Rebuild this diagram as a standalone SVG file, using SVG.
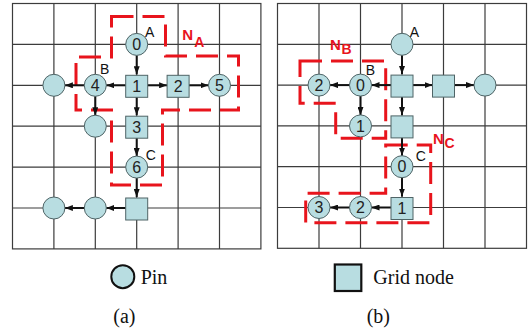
<svg xmlns="http://www.w3.org/2000/svg" width="528" height="333" viewBox="0 0 528 333">
<defs>
<marker id="ah" markerWidth="8" markerHeight="6" refX="8" refY="3" orient="auto" markerUnits="userSpaceOnUse">
<path d="M0,0 L8,3 L0,6 z" fill="#111"/>
</marker>
</defs>
<style>
.grid{stroke:#3c3c3c;stroke-width:1.2;fill:none}
.pin{fill:#b8dde1;stroke:#4f6466;stroke-width:1}
.gn{fill:#b8dde1;stroke:#4f6466;stroke-width:1}
.num{font-family:"Liberation Sans",Arial,sans-serif;font-size:16px;fill:#222;text-anchor:middle}
.lbl{font-family:"Liberation Sans",Arial,sans-serif;font-size:14px;fill:#111}
.net{fill:none;stroke:#e8141c;stroke-width:3;stroke-dasharray:22 9}
.nl{font-family:"Liberation Sans",Arial,sans-serif;font-weight:bold;fill:#e8141c}
.edge{stroke:#111;stroke-width:2;fill:none;marker-end:url(#ah)}
.leg{font-family:"Liberation Serif","Times New Roman",serif;font-size:20px;fill:#111}
</style>

<g id="grid-a" class="grid">
<rect x="12.5" y="3.5" width="248.4" height="245.4"/>
<path d="M53.9,3.5V248.9M95.3,3.5V248.9M136.7,3.5V248.9M178.1,3.5V248.9M219.5,3.5V248.9M12.5,44.4H260.9M12.5,85.3H260.9M12.5,126.2H260.9M12.5,167.1H260.9M12.5,208H260.9"/>
</g>
<g id="grid-b" class="grid">
<rect x="277.5" y="3.5" width="249" height="244.8"/>
<path d="M319,3.5V248.3M360.5,3.5V248.3M402,3.5V248.3M443.5,3.5V248.3M485,3.5V248.3M277.5,44.3H526.5M277.5,85.1H526.5M277.5,125.9H526.5M277.5,166.7H526.5M277.5,207.5H526.5"/>
</g>

<g id="nets">
<path id="net-A" class="net" d="M111.5,16.5H165.5V56H238.5V110H162.5V185H111.5V110H76V57H111.5Z"/>
<path id="net-B" class="net" d="M300,61H385.7V138.3H335.7V103.3H300Z"/>
<path id="net-C" class="net" d="M385.7,145H430.7V222.7H305.7V193.3H385.7Z"/>
<text class="nl" x="182.3" y="40" font-size="15">N</text><text class="nl" x="194.3" y="46.7" font-size="14">A</text>
<text class="nl" x="330" y="50" font-size="15">N</text><text class="nl" x="341.5" y="54" font-size="14">B</text>
<text class="nl" x="433" y="144" font-size="15">N</text><text class="nl" x="444.5" y="148" font-size="14">C</text>
</g>

<g id="connectors">
<path class="edge" d="M136.7,55.4V74.3"/>
<path class="edge" d="M125.7,85.3H106.3"/>
<path class="edge" d="M147.7,85.3H167.1"/>
<path class="edge" d="M189.1,85.3H208.5"/>
<path class="edge" d="M84.3,85.3H64.9"/>
<path class="edge" d="M95.3,96.3V115.2"/>
<path class="edge" d="M136.7,96.3V115.2"/>
<path class="edge" d="M136.7,137.2V156.1"/>
<path class="edge" d="M136.7,178.1V197"/>
<path class="edge" d="M125.7,208H106.3"/>
<path class="edge" d="M84.3,208H64.9"/>

<path class="edge" d="M402,55.3V74.1"/>
<path class="edge" d="M391,85.1H371.5"/>
<path class="edge" d="M349.5,85.1H330"/>
<path class="edge" d="M360.5,96.1V114.9"/>
<path class="edge" d="M413,85.1H432.5"/>
<path class="edge" d="M454.5,85.1H474"/>
<path class="edge" d="M402,96.1V114.9"/>
<path class="edge" d="M402,136.9V155.7"/>
<path class="edge" d="M402,177.7V196.5"/>
<path class="edge" d="M391,207.5H371.5"/>
<path class="edge" d="M349.5,207.5H330"/>
</g>

<g id="a-n0"><circle class="pin" cx="136.7" cy="44.4" r="11"/><text class="num" x="136.7" y="50.1">0</text></g>
<g id="a-n1"><rect class="gn" x="125.7" y="75.3" width="22" height="22"/><text class="num" x="136.7" y="92">1</text></g>
<g id="a-n2"><rect class="gn" x="167.1" y="75.3" width="22" height="22"/><text class="num" x="178.1" y="92">2</text></g>
<g id="a-n5"><circle class="pin" cx="219.5" cy="85.3" r="11"/><text class="num" x="219.5" y="91">5</text></g>
<g id="a-n4"><circle class="pin" cx="95.3" cy="85.3" r="11"/><text class="num" x="95.3" y="91">4</text></g>
<g id="a-p1"><circle class="pin" cx="53.9" cy="85.3" r="11"/></g>
<g id="a-p2"><circle class="pin" cx="95.3" cy="126.2" r="11"/></g>
<g id="a-n3"><rect class="gn" x="125.7" y="116.2" width="22" height="22"/><text class="num" x="136.7" y="132.9">3</text></g>
<g id="a-n6"><circle class="pin" cx="136.7" cy="167.1" r="11"/><text class="num" x="136.7" y="172.8">6</text></g>
<g id="a-g1"><rect class="gn" x="125.7" y="198" width="22" height="22"/></g>
<g id="a-p3"><circle class="pin" cx="95.3" cy="208" r="11"/></g>
<g id="a-p4"><circle class="pin" cx="53.9" cy="208" r="11"/></g>
<g id="a-labels">
<text class="lbl" x="145" y="36.7">A</text>
<text class="lbl" x="100" y="74">B</text>
<text class="lbl" x="145.7" y="160">C</text>
</g>

<g id="b-A"><circle class="pin" cx="402" cy="44.3" r="11"/></g>
<g id="b-g1"><rect class="gn" x="391" y="75.1" width="22" height="22"/></g>
<g id="b-g2"><rect class="gn" x="432.5" y="75.1" width="22" height="22"/></g>
<g id="b-p1"><circle class="pin" cx="485" cy="85.1" r="11"/></g>
<g id="b-B0"><circle class="pin" cx="360.5" cy="85.1" r="11"/><text class="num" x="360.5" y="90.8">0</text></g>
<g id="b-B2"><circle class="pin" cx="319" cy="85.1" r="11"/><text class="num" x="319" y="90.8">2</text></g>
<g id="b-B1"><circle class="pin" cx="360.5" cy="125.9" r="11"/><text class="num" x="360.5" y="131.6">1</text></g>
<g id="b-g3"><rect class="gn" x="391" y="115.9" width="22" height="22"/></g>
<g id="b-C0"><circle class="pin" cx="402" cy="166.7" r="11"/><text class="num" x="402" y="172.4">0</text></g>
<g id="b-C1"><rect class="gn" x="391" y="197.5" width="22" height="22"/><text class="num" x="402" y="214.2">1</text></g>
<g id="b-C2"><circle class="pin" cx="360.5" cy="207.5" r="11"/><text class="num" x="360.5" y="213.2">2</text></g>
<g id="b-C3"><circle class="pin" cx="319" cy="207.5" r="11"/><text class="num" x="319" y="213.2">3</text></g>
<g id="b-labels">
<text class="lbl" x="409.7" y="36.7">A</text>
<text class="lbl" x="365.7" y="75">B</text>
<text class="lbl" x="415.7" y="160.7">C</text>
</g>

<g id="legend">
<circle cx="122.8" cy="276.7" r="11.5" fill="#b8dde1" stroke="#111" stroke-width="2"/>
<text class="leg" x="140.7" y="284.3">Pin</text>
<rect x="334.8" y="264.5" width="26.5" height="26.5" fill="#b8dde1" stroke="#111" stroke-width="2.2"/>
<text class="leg" x="373.3" y="284.3">Grid node</text>
<text class="leg" x="113.3" y="323">(a)</text>
<text class="leg" x="366.7" y="323">(b)</text>
</g>
</svg>
